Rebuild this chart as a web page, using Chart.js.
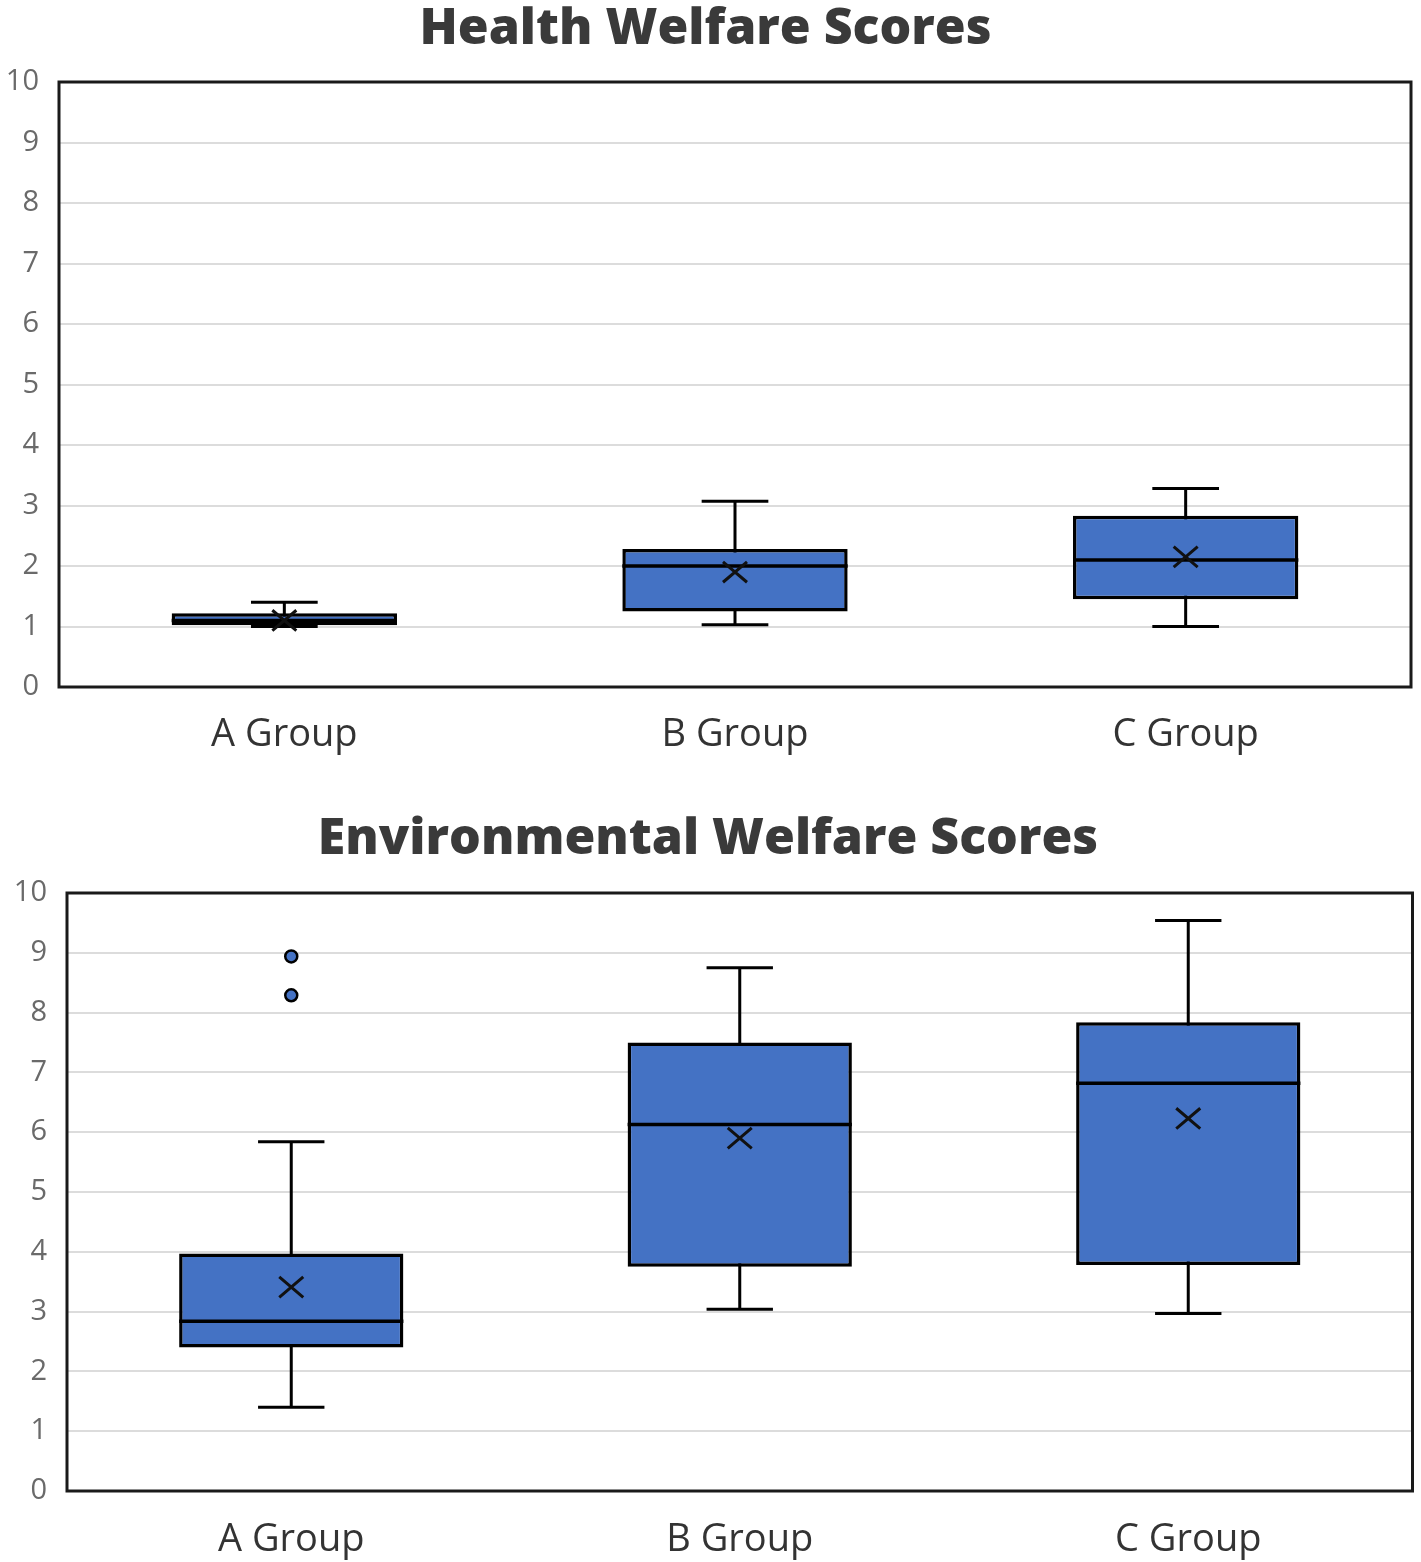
<!DOCTYPE html>
<html>
<head>
<meta charset="utf-8">
<script src="https://cdn.jsdelivr.net/npm/chart.js@4.4.1/dist/chart.umd.min.js"></script>
<style>
  html, body { margin: 0; padding: 0; background: #ffffff; }
  body { width: 1421px; height: 1562px; position: relative; overflow: hidden; }
  .wrap { position: absolute; left: 0; width: 1421px; }
  #w1 { top: 0; height: 770px; }
  #w2 { top: 790px; height: 772px; }
</style>
</head>
<body>
<div class="wrap" id="w1"><canvas id="c1"></canvas></div>
<div class="wrap" id="w2"><canvas id="c2"></canvas></div>
<script>
const categories = ['A Group', 'B Group', 'C Group'];

// Health Welfare Scores
const healthMin    = [1.0, 1.03, 1.0];
const healthQ1     = [1.02, 1.25, 1.45];
const healthMedian = [1.1, 2.0, 2.1];
const healthQ3     = [1.22, 2.28, 2.83];
const healthMax    = [1.4, 3.07, 3.28];
const healthMean   = [1.1, 1.9, 2.15];
const healthOutliers = [[], [], []];

// Environmental Welfare Scores
const envMin    = [1.4, 3.04, 2.97];
const envQ1     = [2.4, 3.75, 3.78];
const envMedian = [2.84, 6.13, 6.82];
const envQ3     = [3.97, 7.5, 7.84];
const envMax    = [5.84, 8.75, 9.54];
const envMean   = [3.41, 5.9, 6.23];
const envOutliers = [[8.94, 8.29], [], []];

const BOX_COLOR = '#4472C4';

const boxExtras = {
  id: 'boxExtras',
  beforeDatasetsDraw(chart, args, opts) {
    const ctx = chart.ctx, xs = chart.scales.x, ys = chart.scales.y;
    const catW = xs.getPixelForValue(1) - xs.getPixelForValue(0);
    ctx.save();
    ctx.strokeStyle = '#000';
    ctx.lineWidth = 3;
    opts.min.forEach((mn, i) => {
      const cx = xs.getPixelForValue(i);
      const yMin = ys.getPixelForValue(mn), yMax = ys.getPixelForValue(opts.max[i]);
      const hw = catW * 0.074;
      ctx.beginPath();
      ctx.moveTo(cx, yMin); ctx.lineTo(cx, yMax);
      ctx.moveTo(cx - hw, yMin); ctx.lineTo(cx + hw, yMin);
      ctx.moveTo(cx - hw, yMax); ctx.lineTo(cx + hw, yMax);
      ctx.stroke();
    });
    ctx.restore();
  },
  afterDatasetsDraw(chart, args, opts) {
    const ctx = chart.ctx, xs = chart.scales.x, ys = chart.scales.y;
    const meta = chart.getDatasetMeta(0);
    ctx.save();
    ctx.strokeStyle = '#000';
    ctx.lineWidth = 3.5;
    opts.median.forEach((md, i) => {
      const bar = meta.data[i];
      const y = ys.getPixelForValue(md);
      ctx.beginPath();
      ctx.moveTo(bar.x - bar.width / 2, y); ctx.lineTo(bar.x + bar.width / 2, y);
      ctx.stroke();
    });
    ctx.lineWidth = 3;
    ctx.strokeStyle = '#111';
    opts.mean.forEach((mv, i) => {
      const cx = xs.getPixelForValue(i);
      const y = ys.getPixelForValue(mv);
      const s = 12;
      ctx.beginPath();
      ctx.moveTo(cx - s, y - s * 0.85); ctx.lineTo(cx + s, y + s * 0.85);
      ctx.moveTo(cx + s, y - s * 0.85); ctx.lineTo(cx - s, y + s * 0.85);
      ctx.stroke();
    });
    ctx.restore();
  },
  afterDraw(chart) {
    const ctx = chart.ctx, a = chart.chartArea;
    ctx.save();
    ctx.strokeStyle = '#1a1a1a';
    ctx.lineWidth = 3;
    ctx.strokeRect(a.left, a.top, a.right - a.left, a.bottom - a.top);
    ctx.restore();
  }
};

function makeChart(id, title, mins, q1, med, q3, maxs, means, outliers, cfg) {
  const outlierPts = [];
  outliers.forEach((arr, i) => arr.forEach(v => outlierPts.push({ x: categories[i], y: v })));
  return new Chart(document.getElementById(id), {
    type: 'bar',
    data: {
      labels: categories,
      datasets: [
        {
          type: 'bar',
          data: q1.map((v, i) => [v, q3[i]]),
          backgroundColor: BOX_COLOR,
          borderColor: '#000',
          borderWidth: 3.5,
          borderSkipped: false,
          barPercentage: 0.5,
          categoryPercentage: 1.0
        },
        {
          type: 'line',
          data: outlierPts,
          showLine: false,
          pointRadius: 6,
          pointBackgroundColor: BOX_COLOR,
          pointBorderColor: '#000',
          pointBorderWidth: 2.5
        }
      ]
    },
    options: {
      responsive: true,
      maintainAspectRatio: false,
      animation: false,
      layout: { padding: { left: 0, right: cfg.padRight, top: 0, bottom: 0 } },
      plugins: {
        legend: { display: false },
        tooltip: { enabled: false },
        title: {
          display: true,
          text: title,
          color: '#3a3a3a',
          font: { family: 'Open Sans', size: 50, weight: '800' },
          padding: { top: cfg.titleTop, bottom: cfg.titleBottom }
        },
        boxExtras: { min: mins, max: maxs, median: med, mean: means }
      },
      scales: {
        x: {
          grid: { display: false, drawTicks: false },
          border: { display: false },
          ticks: { color: '#333333', font: { family: 'Open Sans', size: 38 }, padding: cfg.xPad },
          afterFit(scale) { scale.height = cfg.xHeight; }
        },
        y: {
          min: 0, max: 10,
          grid: { color: '#dcdcdc', lineWidth: 2, drawTicks: false },
          border: { display: false },
          ticks: { stepSize: 1, color: '#6a6a6a', font: { family: 'Open Sans', size: 29 }, padding: cfg.yPad },
          afterFit(scale) { scale.width = cfg.yWidth; }
        }
      }
    },
    plugins: [boxExtras]
  });
}

makeChart('c1', 'Health Welfare Scores', healthMin, healthQ1, healthMedian, healthQ3, healthMax, healthMean, healthOutliers,
  { padRight: 10, titleTop: 0, titleBottom: 22, xPad: 25, xHeight: 83, yPad: 20, yWidth: 59 });
makeChart('c2', 'Environmental Welfare Scores', envMin, envQ1, envMedian, envQ3, envMax, envMean, envOutliers,
  { padRight: 5, titleTop: 20, titleBottom: 23, xPad: 26, xHeight: 71, yPad: 20, yWidth: 67 });
</script>
</body>
</html>
